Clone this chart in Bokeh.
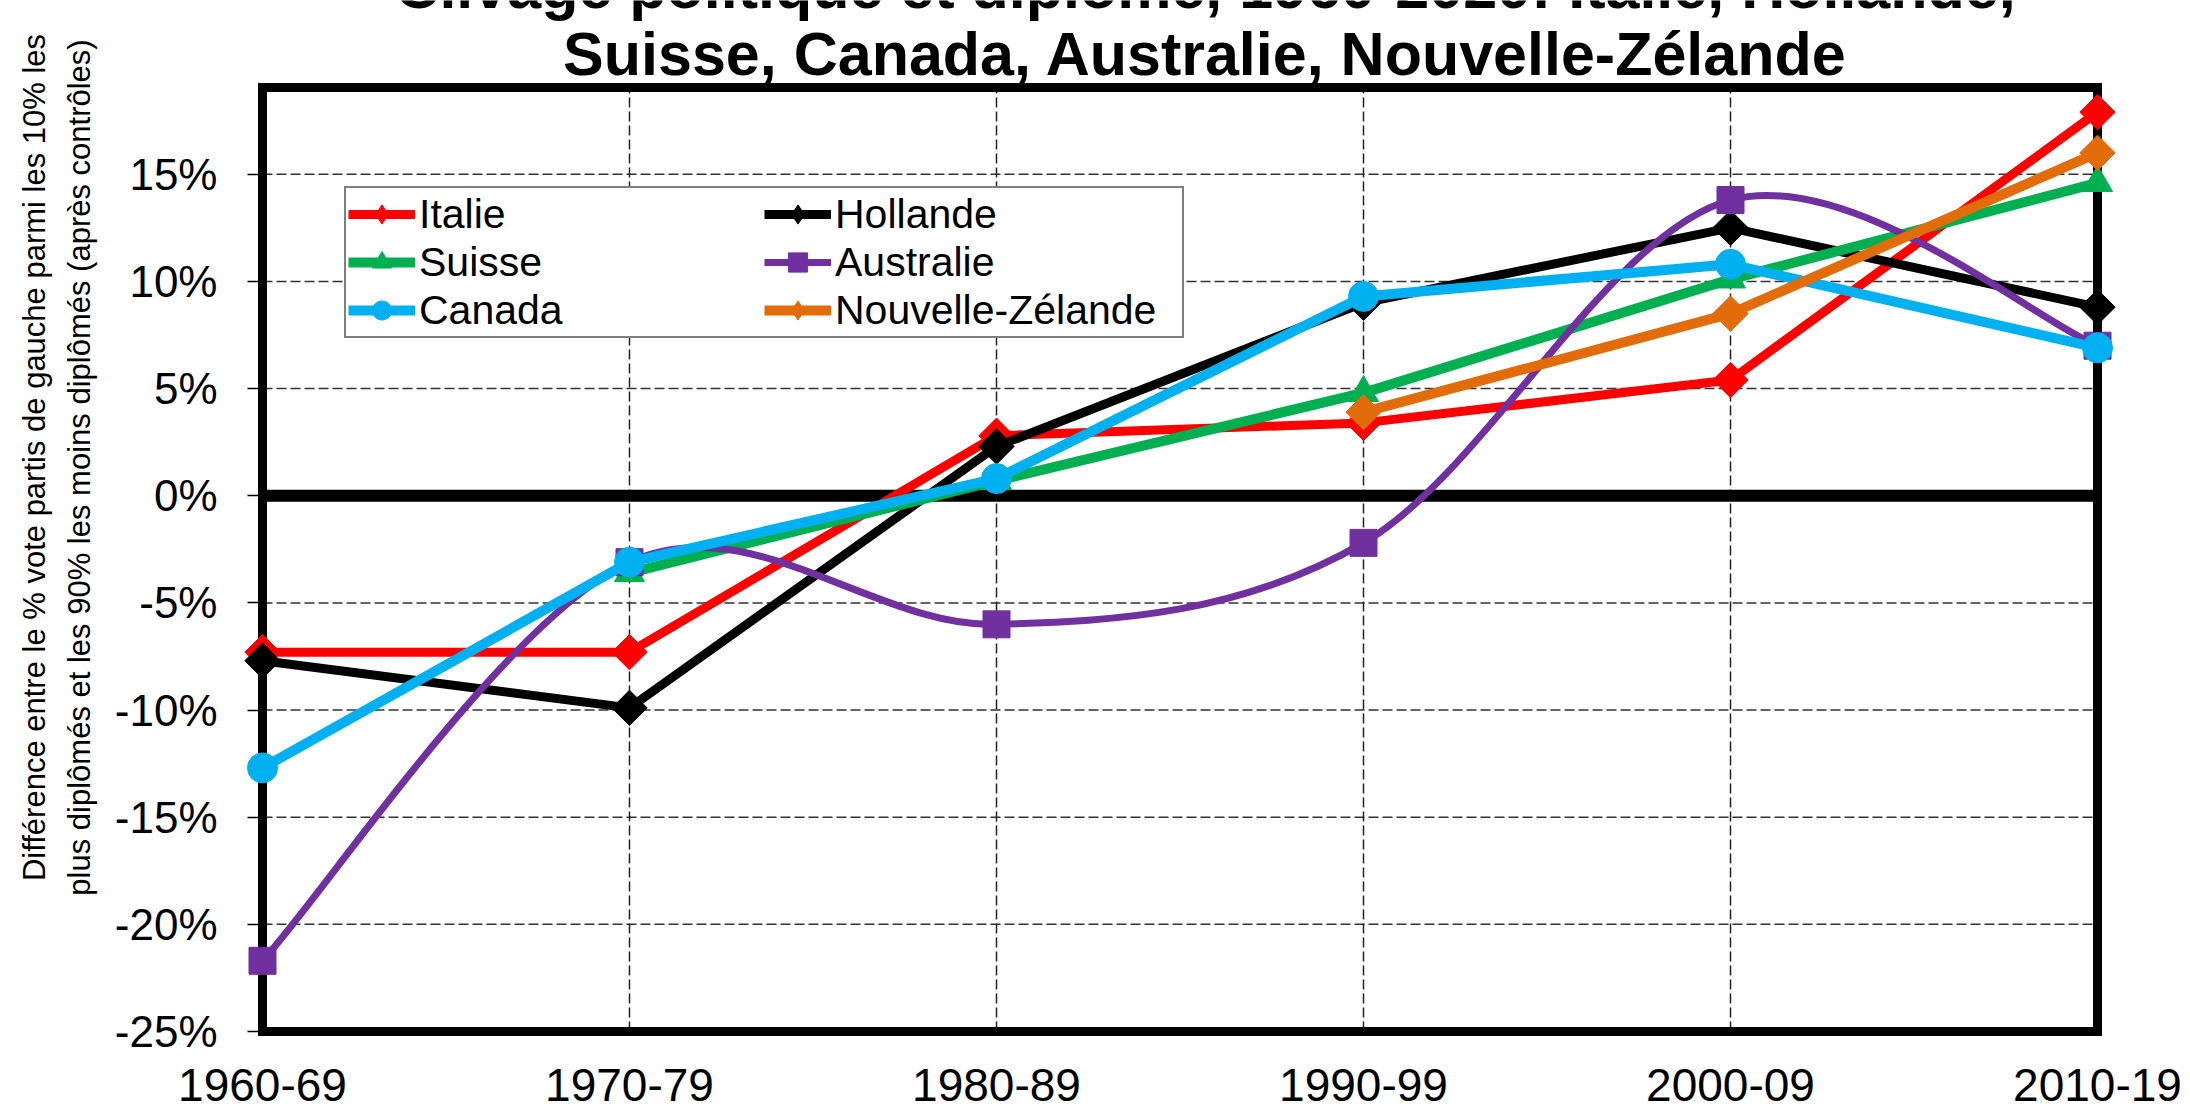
import math
from bokeh.plotting import figure
from bokeh.models import Range1d, FixedTicker, Legend, LegendItem, Label
from bokeh.embed import file_html
from bokeh.resources import INLINE

# ---------------- data ----------------
categories = ["1960-69", "1970-79", "1980-89", "1990-99", "2000-09", "2010-19"]
italie = [-7.3, -7.3, 2.8, 3.4, 5.4, 17.9]
hollande = [-7.7, -9.9, 2.3, 9.0, 12.5, 8.8]
suisse = [None, -3.6, 0.7, 4.8, 10.1, 14.6]
australie = [-21.7, -3.1, -6.0, -2.2, 13.8, 7.0]
canada = [-12.7, -3.1, 0.8, 9.3, 10.8, 6.9]
nouvelle_zelande = [None, None, None, 3.9, 8.5, 16.0]
y_ticks = [-25, -20, -15, -10, -5, 0, 5, 10, 15]
y_tick_labels = ["-25%", "-20%", "-15%", "-10%", "-5%", "0%", "5%", "10%", "15%"]
title_lines = ["Clivage politique et diplôme, 1960-2020: Italie, Hollande,",
               "Suisse, Canada, Australie, Nouvelle-Zélande"]
ylabel_lines = ["Différence entre le % vote partis de gauche parmi les 10% les",
                "plus diplômés et les 90% les moins diplômés (après contrôles)"]

# ---------------- layout / style ----------------
FONT = "Liberation Sans"
Y_MIN, Y_MAX = -25.0, 19.05
W, H = 2190, 1110
PX_PER_X = 367.0          # pixels per category step
PX_PER_Y = 21.43          # pixels per percentage point
BOX_LEFT_PX, BOX_TOP_PX = 262, 87

n = len(categories)
xs = list(range(n))
x_last = xs[-1]

x_start = xs[0] - BOX_LEFT_PX / PX_PER_X
x_end = x_start + W / PX_PER_X
y_end = Y_MAX + BOX_TOP_PX / PX_PER_Y
y_start = y_end - H / PX_PER_Y

p = figure(width=W, height=H,
           x_range=Range1d(x_start, x_end), y_range=Range1d(y_start, y_end),
           output_backend="svg", toolbar_location=None,
           min_border_left=0, min_border_right=0, min_border_top=0, min_border_bottom=0)
p.outline_line_color = None
p.xgrid.grid_line_color = None
p.ygrid.grid_line_color = None
p.background_fill_color = "white"
p.border_fill_color = "white"

# x axis, drawn at the bottom of the box
xa = p.xaxis[0]
xa.fixed_location = Y_MIN
xa.ticker = FixedTicker(ticks=xs)
xa.major_label_overrides = {i: c for i, c in zip(xs, categories)}
xa.axis_line_color = None
xa.major_tick_line_color = None
xa.minor_tick_line_color = None
xa.major_label_text_font = FONT
xa.major_label_text_font_size = "46px"
xa.major_label_text_color = "black"
xa.major_label_standoff = 32

# y axis, drawn at the left of the box
ya = p.yaxis[0]
ya.fixed_location = xs[0]
ya.ticker = FixedTicker(ticks=y_ticks)
ya.major_label_overrides = {t: l for t, l in zip(y_ticks, y_tick_labels)}
ya.axis_line_color = None
ya.minor_tick_line_color = None
ya.major_tick_in = 0
ya.major_tick_out = 15
ya.major_tick_line_color = "black"
ya.major_tick_line_width = 1.5
ya.major_label_text_font = FONT
ya.major_label_text_font_size = "44px"
ya.major_label_text_color = "black"
ya.major_label_standoff = 30

# grid lines (dashed), inside the box
gy = [t for t in y_ticks if t not in (Y_MIN, 0)]
p.segment(x0=[xs[0]] * len(gy), x1=[x_last] * len(gy), y0=gy, y1=gy,
          line_color="#333333", line_width=1.5, line_dash="10 4")
gx = xs[1:-1]
p.segment(x0=gx, x1=gx, y0=[Y_MIN] * len(gx), y1=[Y_MAX] * len(gx),
          line_color="#222222", line_width=1.5, line_dash="10 4")

# zero line
p.segment(x0=[xs[0]], x1=[x_last], y0=[0], y1=[0], line_color="black", line_width=12)

# box
p.quad(left=[xs[0]], right=[x_last], bottom=[Y_MIN], top=[Y_MAX],
       fill_alpha=0, line_color="black", line_width=9, line_join="miter")


def bezier_parts(px, py):
    m = len(px)
    out = dict(x0=[], y0=[], x1=[], y1=[], cx0=[], cy0=[], cx1=[], cy1=[])
    for i in range(m - 1):
        a = max(i - 1, 0)
        b = min(i + 2, m - 1)
        out["x0"].append(px[i]); out["y0"].append(py[i])
        out["x1"].append(px[i + 1]); out["y1"].append(py[i + 1])
        out["cx0"].append(px[i] + (px[i + 1] - px[a]) / 6.0)
        out["cy0"].append(py[i] + (py[i + 1] - py[a]) / 6.0)
        out["cx1"].append(px[i + 1] - (px[b] - px[i]) / 6.0)
        out["cy1"].append(py[i + 1] - (py[b] - py[i]) / 6.0)
    return out


series = [
    ("Italie", italie, "#FF0000", "diamond", False, 9),
    ("Hollande", hollande, "#000000", "diamond", False, 9),
    ("Suisse", suisse, "#00B050", "triangle", False, 10),
    ("Australie", australie, "#7030A0", "square", True, 7),
    ("Canada", canada, "#00B0F0", "circle", False, 10),
    ("Nouvelle-Zélande", nouvelle_zelande, "#E36C0A", "diamond", False, 10),
]

NAN = float("nan")
items = []
for name, vals, color, mk, smooth, lw in series:
    px = [x for x, v in zip(xs, vals) if v is not None]
    py = [v for v in vals if v is not None]
    if smooth:
        r_line = p.bezier(**bezier_parts(px, py), line_color=color, line_width=lw)
    else:
        r_line = p.line(px, py, line_color=color, line_width=lw, line_join="round")
    if mk == "diamond":
        p.scatter(px, py, marker="square", angle=math.pi / 4, size=25,
                  fill_color=color, line_color=color)
    elif mk == "triangle":
        p.scatter(px, py, marker="triangle", size=30, fill_color=color, line_color=color)
    elif mk == "square":
        p.scatter(px, py, marker="square", size=27, fill_color=color, line_color=color)
    else:
        p.scatter(px, py, marker="circle", size=30, fill_color=color, line_color=color)
    # legend-only marker (no drawable point in the plot)
    r_leg = p.scatter(x=[NAN], y=[NAN], marker=mk, size=10, fill_color=color, line_color=color)
    items.append(LegendItem(label=name, renderers=[r_line, r_leg]))

legend = Legend(items=items, location=(344, 772), orientation="horizontal", ncols=2,
                glyph_width=67, glyph_height=48, label_standoff=4, label_width=345,
                spacing=0, padding=2, margin=0,
                label_text_font=FONT, label_text_font_size="41px", label_text_color="black",
                border_line_color="black", border_line_width=2,
                background_fill_color="white", background_fill_alpha=1.0)
p.add_layout(legend)

# title (two lines; the first is cut by the top edge as in the reference)
p.add_layout(Label(x=1205, y=1124, x_units="screen", y_units="screen", text=title_lines[0],
                   text_font=FONT, text_font_style="bold", text_font_size="61px",
                   text_align="center", text_baseline="middle", text_color="black"))
p.add_layout(Label(x=1205, y=1057, x_units="screen", y_units="screen", text=title_lines[1],
                   text_font=FONT, text_font_style="bold", text_font_size="61px",
                   text_align="center", text_baseline="middle", text_color="black"))

# y-axis label, two rotated lines
p.add_layout(Label(x=34, y=653, x_units="screen", y_units="screen", text=ylabel_lines[0],
                   angle=math.pi / 2, text_font=FONT, text_font_size="31px",
                   text_align="center", text_baseline="middle", text_color="black"))
p.add_layout(Label(x=79, y=643, x_units="screen", y_units="screen", text=ylabel_lines[1],
                   angle=math.pi / 2, text_font=FONT, text_font_size="31px",
                   text_align="center", text_baseline="middle", text_color="black"))

open("out.html", "w").write(file_html(p, INLINE))
